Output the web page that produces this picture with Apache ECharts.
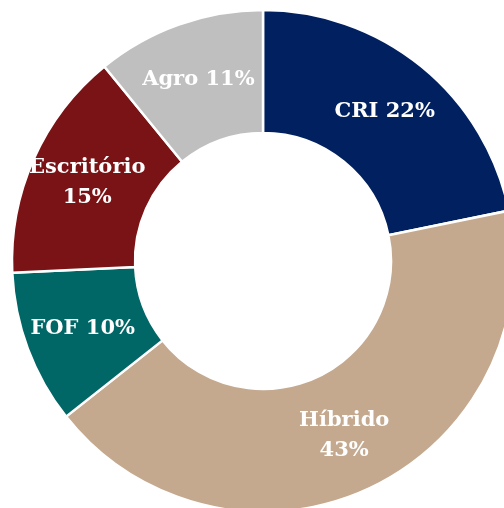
<!DOCTYPE html>
<html>
<head>
<meta charset="utf-8">
<script src="https://cdn.jsdelivr.net/npm/echarts@6/dist/echarts.min.js"></script>
<style>
  html, body { margin: 0; padding: 0; background: #fff; }
  #chart { width: 504px; height: 508px; }
</style>
</head>
<body>
<div id="chart"></div>
<script>
// fatias no sentido horario a partir do topo
var categories = ['CRI', 'Híbrido', 'FOF', 'Escritório', 'Agro'];
var values = [22, 43, 10, 15, 11];
var labels = ['CRI 22%', 'Híbrido\n43%', 'FOF 10%', 'Escritório\n15%', 'Agro 11%'];
var colors = ['#002060', '#C4A98F', '#006666', '#7A1315', '#BFBFBF'];

var myChart = echarts.init(document.getElementById('chart'));

var seriesData = categories.map(function (name, i) {
    return {
        name: name,
        value: values[i],
        itemStyle: { color: colors[i] },
        label: { formatter: labels[i] }
    };
});

var option = {
    animation: false,
    series: [{
        type: 'pie',
        center: [263, 261],
        radius: [128, 251],
        startAngle: 90,
        clockwise: true,
        avoidLabelOverlap: false,
        itemStyle: {
            borderColor: '#ffffff',
            borderWidth: 2.5
        },
        label: {
            show: true,
            position: 'inside',
            color: '#ffffff',
            fontFamily: 'DejaVu Serif',
            fontWeight: 'bold',
            fontSize: 21,
            lineHeight: 30
        },
        labelLine: { show: false },
        emphasis: { disabled: true },
        data: seriesData
    }]
};

myChart.setOption(option);
</script>
</body>
</html>
